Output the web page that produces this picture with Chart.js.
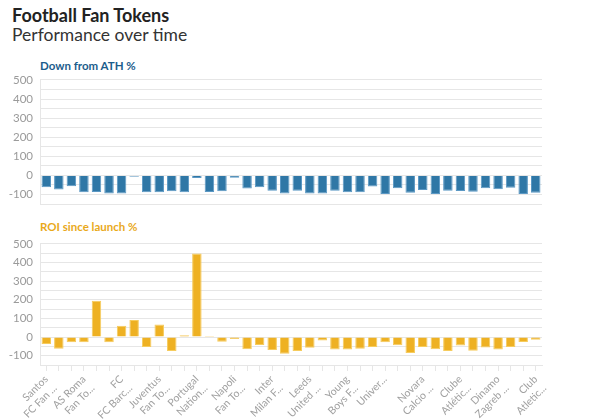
<!DOCTYPE html>
<html>
<head>
<meta charset="utf-8">
<script src="https://cdn.jsdelivr.net/npm/chart.js@4/dist/chart.umd.min.js"></script>
<style>
  html, body { margin: 0; padding: 0; background: #fff; }
  body { width: 600px; height: 419px; position: relative; overflow: hidden; font-family: Lato, "Open Sans", sans-serif; }
  #title { position: absolute; left: 12px; top: 4px; font-size: 18px; font-weight: 700; color: #222; }
  #subtitle { position: absolute; left: 12px; top: 24px; font-size: 17.5px; font-weight: 400; color: #333; }
  .sec { position: absolute; left: 40px; font-size: 11.5px; font-weight: 700; }
  #sec1 { top: 59px; color: #1c5d8c; }
  #sec2 { top: 220px; color: #e9a91b; }
  .box { position: absolute; left: 0; width: 600px; }
  #box1 { top: 66px; height: 152px; }
  #box2 { top: 230px; height: 189px; }
</style>
</head>
<body>
<div id="title">Football Fan Tokens</div>
<div id="subtitle">Performance over time</div>
<div class="sec" id="sec1">Down from ATH %</div>
<div class="sec" id="sec2">ROI since launch %</div>
<div class="box" id="box1"><canvas id="c1"></canvas></div>
<div class="box" id="box2"><canvas id="c2"></canvas></div>
<script>
const categories = [
  "Santos FC Fan Token", "Manchester City Fan Token", "Paris Saint-Germain Fan Token",
  "AS Roma Fan Token", "Galatasaray Fan Token", "Atlético de Madrid Fan Token",
  "FC FC Barcelona Fan Token", "AC Milan Fan Token", "Lazio Fan Token",
  "Juventus Fan Token", "Trabzonspor Fan Token", "Valencia CF Fan Token",
  "Portugal National Team Fan Token", "Argentine Football Association Fan Token", "Alanyaspor Fan Token",
  "Napoli Fan Token", "Göztepe S.K. Fan Token", "Apollon Limassol Fan Token",
  "Inter Milan Fan Token", "Aston Villa Fan Token", "Everton Fan Token",
  "Leeds United Fan Token", "Sevilla FC Fan Token", "Bologna FC Fan Token",
  "Young Boys Fan Token", "Legia Warsaw Fan Token", "Flamengo Fan Token",
  "Universidad de Chile Fan Token", "Corinthians Fan Token", "São Paulo FC Fan Token",
  "Novara Calcio Fan Token", "Sporting CP Fan Token", "Vasco da Gama Fan Token",
  "Clube Atlético Mineiro Fan Token", "Fluminense Fan Token", "Internacional Fan Token",
  "Dinamo Zagreb Fan Token", "Benfica Fan Token", "Udinese Calcio Fan Token",
  "Club Atlético Independiente Fan Token"
];
// labels drawn under every third category
const tickLabels = [
  ["Santos", "FC Fan ..."], ["AS Roma", "Fan To..."], ["FC", "FC Barc..."],
  ["Juventus", "Fan To..."], ["Portugal", "Nation..."], ["Napoli", "Fan To..."],
  ["Inter", "Milan F..."], ["Leeds", "United ..."], ["Young", "Boys F..."],
  ["Univer..."], ["Novara", "Calcio ..."], ["Clube", "Atlétic..."],
  ["Dinamo", "Zagreb ..."], ["Club", "Atletic..."]
];
const downFromATH = [
  -62, -74, -57, -88, -87, -94, -94, -7, -88, -88,
  -83, -88, -14, -87, -83, -12, -69, -62, -80, -94,
  -80, -94, -94, -80, -88, -88, -58, -97, -67, -90,
  -76, -97, -80, -81, -85, -67, -72, -64, -97, -90
];
const roiSinceLaunch = [
  -37, -63, -28, -28, 195, -28, 61, 91, -53, 67,
  -75, 10, 449, 5, -25, -11, -65, -42, -70, -89,
  -75, -58, -18, -67, -67, -63, -53, -28, -44, -86,
  -53, -65, -75, -46, -74, -56, -67, -53, -26, -14
];
const yMin = -150, yMax = 500, yStep = 50;

const FONT = "Lato, 'Open Sans', sans-serif";
const GRID = '#e6e6e6';

function yAxis() {
  return {
    min: yMin, max: yMax,
    afterFit: s => { s.width = 40; },
    border: { display: true, color: GRID },
    grid: { color: GRID, drawTicks: false },
    ticks: {
      stepSize: yStep, padding: 7, color: '#9a9a9a',
      font: { family: FONT, size: 11.5 },
      autoSkip: false,
      callback: v => (v % 100 === 0 ? String(v) : '')
    }
  };
}

function makeChart(id, data, fill, border, showX) {
  return new Chart(document.getElementById(id), {
    type: 'bar',
    data: {
      labels: categories,
      datasets: [{
        data: data,
        backgroundColor: fill,
        borderColor: border,
        borderWidth: 1,
        barPercentage: 0.88,
        categoryPercentage: 0.86
      }]
    },
    options: {
      responsive: true, maintainAspectRatio: false, animation: false,
      layout: { padding: { top: 6, right: 58, bottom: 0, left: 0 } },
      plugins: { legend: { display: false }, tooltip: { enabled: false } },
      scales: {
        x: showX ? {
          afterFit: s => { s.height = 54; },
          border: { display: true, color: GRID },
          grid: { drawOnChartArea: false, offset: false, tickLength: 6, color: GRID },
          ticks: {
            autoSkip: false, minRotation: 45, maxRotation: 45, padding: 2,
            color: '#a0a0a0', font: { family: FONT, size: 10.5 },
            callback: (v, i) => (i % 3 === 0 ? tickLabels[i / 3] : '')
          }
        } : { display: false },
        y: yAxis()
      }
    }
  });
}

makeChart('c1', downFromATH, '#2f77a6', '#5b98c4', false);
makeChart('c2', roiSinceLaunch, '#eeb123', '#f6cc5e', true);
</script>
</body>
</html>
